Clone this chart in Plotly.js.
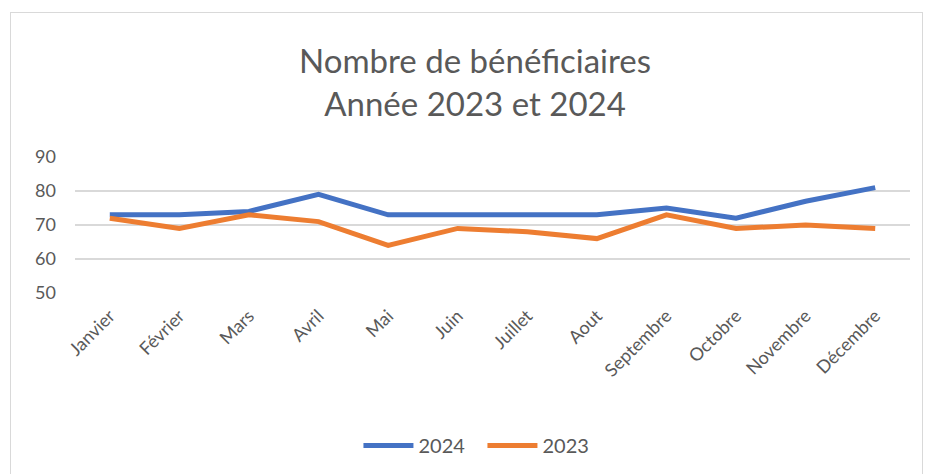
<!DOCTYPE html>
<html>
<head>
<meta charset="utf-8">
<script src="https://cdn.plot.ly/plotly-3.0.1.min.js"></script>
<style>
body{margin:0;padding:0;background:#fff;}
#wrap{position:relative;width:926px;height:474px;}
#chart{width:926px;height:474px;}
#frame{position:absolute;left:10px;top:12px;width:911px;height:470px;border:1px solid #d9d9d9;pointer-events:none;}
</style>
</head>
<body>
<div id="wrap"><div id="chart"></div><div id="frame"></div></div>
<script>
const months = ["Janvier","Février","Mars","Avril","Mai","Juin","Juillet","Aout","Septembre","Octobre","Novembre","Décembre"];
const values2024 = [73,73,74,79,73,73,73,73,75,72,77,81];
const values2023 = [72,69,73,71,64,69,68,66,73,69,70,69];

const font = "Lato, 'Open Sans', sans-serif";
const traces = [
  {x: months, y: values2024, name: "2024", type: "scatter", mode: "lines",
   line: {color: "#4472C4", width: 5}},
  {x: months, y: values2023, name: "2023", type: "scatter", mode: "lines",
   line: {color: "#ED7D31", width: 5}}
];
const layout = {
  width: 926, height: 474,
  margin: {l: 75, r: 16, t: 157, b: 181},
  paper_bgcolor: "rgba(0,0,0,0)", plot_bgcolor: "rgba(0,0,0,0)",
  font: {family: font, color: "#595959"},
  title: {text: "Nombre de bénéficiaires<br>Année 2023 et 2024", x: 0.513, xref: "container",
          y: 0.846, yref: "container", yanchor: "middle", font: {size: 33, color: "#595959", family: font}},
  xaxis: {type: "category", range: [-0.5, 11.5], tickangle: -45, tickfont: {size: 18, color: "#595959"},
          showgrid: false, zeroline: false, showline: false, ticks: "", ticklen: 0,
          ticklabelstandoff: 8},
  yaxis: {range: [50, 90], dtick: 10, tickfont: {size: 18, color: "#595959"},
          gridcolor: "#d9d9d9", gridwidth: 1.6, zeroline: false, showline: false, ticks: "",
          ticklabelstandoff: 18},
  legend: {orientation: "h", xref: "container", yref: "container", x: 0.521, xanchor: "center",
           y: 0.06, yanchor: "middle", font: {size: 20, color: "#595959"}, itemwidth: 50,
           entrywidth: 59, entrywidthmode: "pixels"},
  showlegend: true
};
Plotly.newPlot("chart", traces, layout, {displayModeBar: false, staticPlot: true});
</script>
</body>
</html>
